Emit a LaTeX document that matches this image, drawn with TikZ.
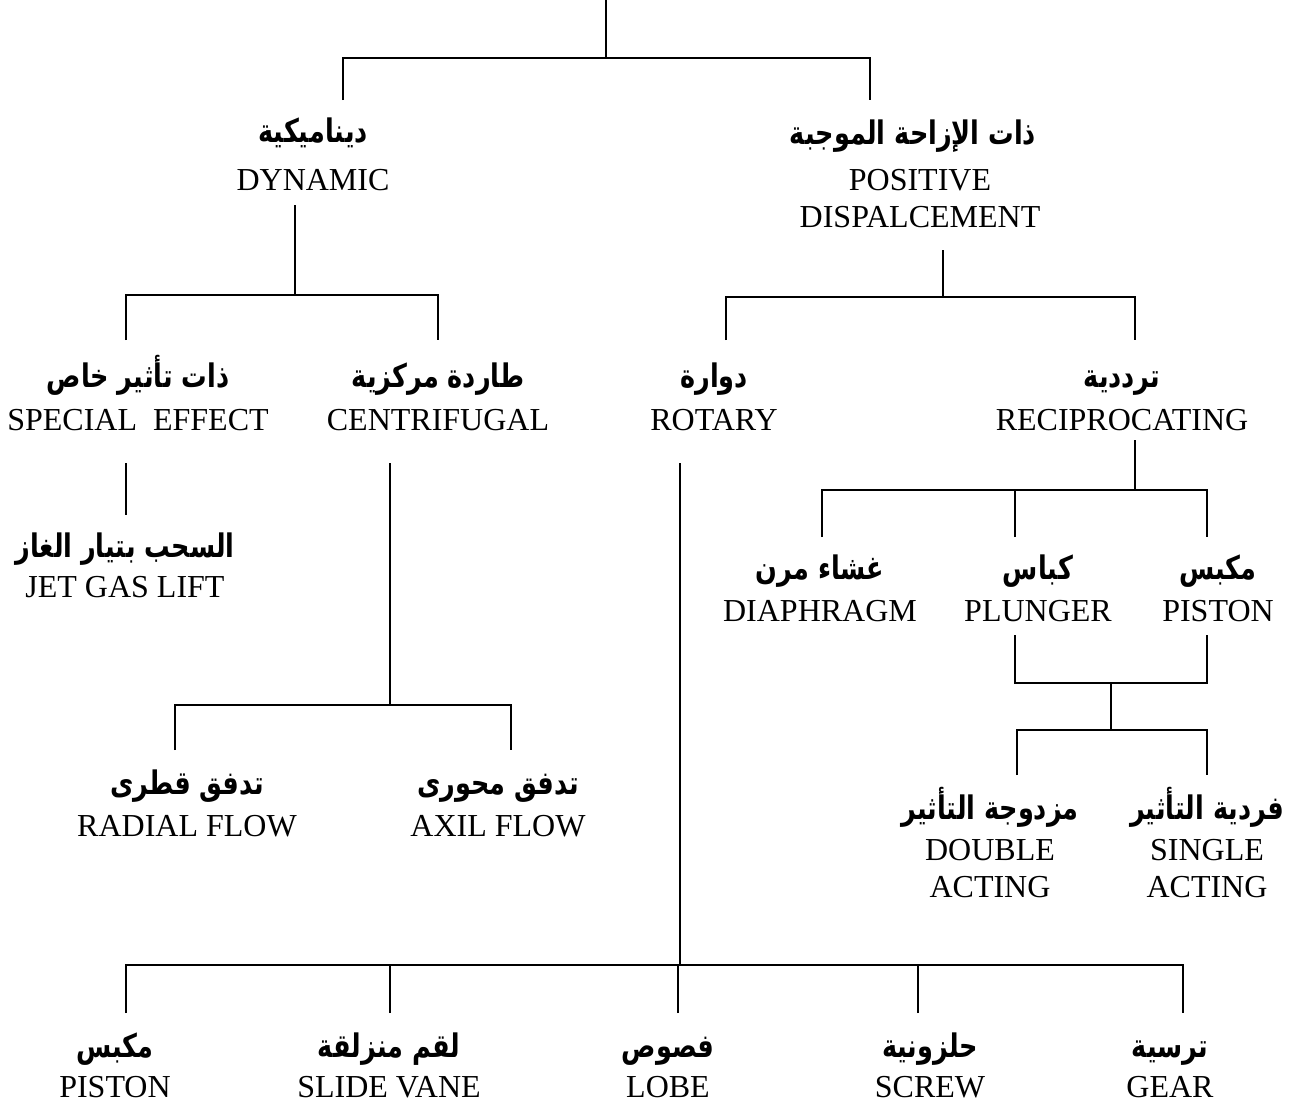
\documentclass[tikz,border=0pt]{standalone}
\usepackage{fontspec}
\setmainfont{Liberation Serif}
\newfontfamily\arabicfont[Script=Arabic]{DejaVu Sans}
\TeXXeTstate=1
\newcommand{\artxt}[1]{\scalebox{0.88}[1.12]{\beginR #1\endR}}
\begin{document}
\begin{tikzpicture}[x=1pt,y=-1pt,
  en/.style={font=\fontsize{32}{37}\selectfont, inner sep=0pt, text height=21pt, text depth=0pt},
  ar/.style={font=\arabicfont\bfseries\fontsize{29}{34}\selectfont, inner sep=0pt, text height=18pt, text depth=0pt},
  conn/.style={line width=1.8pt}]
\useasboundingbox (0,0) rectangle (1300,1104);

% ---------- labels ----------
\node[ar] (dyn-ar) at (313,133) {\artxt{ديناميكية}};
\node[en] (dyn) at (313,180) {DYNAMIC};
\node[ar] (pd-ar) at (913,135) {\artxt{ذات الإزاحة الموجبة}};
\node[en] (pd1) at (920,180) {POSITIVE};
\node[en] (pd2) at (920,217) {DISPALCEMENT};

\node[ar] (sp-ar) at (138,378) {\artxt{ذات تأثير خاص}};
\node[en] (sp) at (138,420) {SPECIAL\ \ EFFECT};
\node[ar] (cf-ar) at (438,378) {\artxt{طاردة مركزية}};
\node[en] (cf) at (438,420) {CENTRIFUGAL};
\node[ar] (ro-ar) at (714,378) {\artxt{دوارة}};
\node[en] (ro) at (714,420) {ROTARY};
\node[ar] (re-ar) at (1122,378) {\artxt{ترددية}};
\node[en] (re) at (1122,420) {RECIPROCATING};

\node[ar] (jet-ar) at (125,548) {\artxt{السحب بتيار الغاز}};
\node[en] (jet) at (125,587) {JET GAS LIFT};

\node[ar] (di-ar) at (820,570) {\artxt{غشاء مرن}};
\node[en] (di) at (820,611) {DIAPHRAGM};
\node[ar] (pl-ar) at (1038,570) {\artxt{كباس}};
\node[en] (pl) at (1038,611) {PLUNGER};
\node[ar] (pi-ar) at (1218,570) {\artxt{مكبس}};
\node[en] (pi) at (1218,611) {PISTON};

\node[ar] (ra-ar) at (187,785) {\artxt{تدفق قطرى}};
\node[en] (ra) at (187,826) {RADIAL FLOW};
\node[ar] (ax-ar) at (498,785) {\artxt{تدفق محورى}};
\node[en] (ax) at (498,826) {AXIL FLOW};

\node[ar] (da-ar) at (990,810) {\artxt{مزدوجة التأثير}};
\node[en] (da1) at (990,850) {DOUBLE};
\node[en] (da2) at (990,887) {ACTING};
\node[ar] (sa-ar) at (1207,810) {\artxt{فردية التأثير}};
\node[en] (sa1) at (1207,850) {SINGLE};
\node[en] (sa2) at (1207,887) {ACTING};

\node[ar] (bp-ar) at (115,1048) {\artxt{مكبس}};
\node[en] (bp) at (115,1087) {PISTON};
\node[ar] (sv-ar) at (389,1048) {\artxt{لقم منزلقة}};
\node[en] (sv) at (389,1087) {SLIDE VANE};
\node[ar] (lo-ar) at (668,1048) {\artxt{فصوص}};
\node[en] (lo) at (668,1087) {LOBE};
\node[ar] (sc-ar) at (930,1048) {\artxt{حلزونية}};
\node[en] (sc) at (930,1087) {SCREW};
\node[ar] (ge-ar) at (1170,1048) {\artxt{ترسية}};
\node[en] (ge) at (1170,1087) {GEAR};

% ---------- connector points ----------
\coordinate (root) at (606,0);
\coordinate (r-j) at (606,58);
\coordinate (r-l) at (343,100);
\coordinate (r-r) at (870,100);

\coordinate (d-s) at (295,205);
\coordinate (d-j) at (295,295);
\coordinate (d-l) at (126,340);
\coordinate (d-r) at (438,340);

\coordinate (p-s) at (943,250);
\coordinate (p-j) at (943,297);
\coordinate (p-l) at (726,340);
\coordinate (p-r) at (1135,340);

\coordinate (s-s) at (126,463);
\coordinate (s-e) at (126,515);

\coordinate (c-s) at (390,463);
\coordinate (c-j) at (390,705);
\coordinate (c-l) at (175,750);
\coordinate (c-r) at (511,750);

\coordinate (o-s) at (680,463);
\coordinate (o-j) at (680,965);
\coordinate (o-1) at (126,1013);
\coordinate (o-2) at (390,1013);
\coordinate (o-3) at (678,1013);
\coordinate (o-4) at (918,1013);
\coordinate (o-5) at (1183,1013);

\coordinate (e-s) at (1135,440);
\coordinate (e-j) at (1135,490);
\coordinate (e-1) at (822,537);
\coordinate (e-2) at (1015,537);
\coordinate (e-3) at (1207,537);

\coordinate (k-l) at (1015,635);
\coordinate (k-r) at (1207,635);
\coordinate (k-j) at (1111,683);
\coordinate (k-m) at (1111,730);
\coordinate (k-a) at (1017,775);
\coordinate (k-b) at (1207,775);

% ---------- connectors ----------
\draw[conn] (root) -- (r-j);
\draw[conn] (r-l) |- (r-j) -| (r-r);

\draw[conn] (d-s) -- (d-j);
\draw[conn] (d-l) |- (d-j) -| (d-r);

\draw[conn] (p-s) -- (p-j);
\draw[conn] (p-l) |- (p-j) -| (p-r);

\draw[conn] (s-s) -- (s-e);

\draw[conn] (c-s) -- (c-j);
\draw[conn] (c-l) |- (c-j) -| (c-r);

\draw[conn] (o-s) -- (o-j);
\draw[conn] (o-1) |- (o-j) -| (o-5);
\draw[conn] (o-2) -- (o-2 |- o-j);
\draw[conn] (o-3) -- (o-3 |- o-j);
\draw[conn] (o-4) -- (o-4 |- o-j);

\draw[conn] (e-s) -- (e-j);
\draw[conn] (e-1) |- (e-j) -| (e-3);
\draw[conn] (e-2) -- (e-2 |- e-j);

\draw[conn] (k-l) |- (k-j) -| (k-r);
\draw[conn] (k-j) -- (k-m);
\draw[conn] (k-a) |- (k-m) -| (k-b);
\end{tikzpicture}
\end{document}
